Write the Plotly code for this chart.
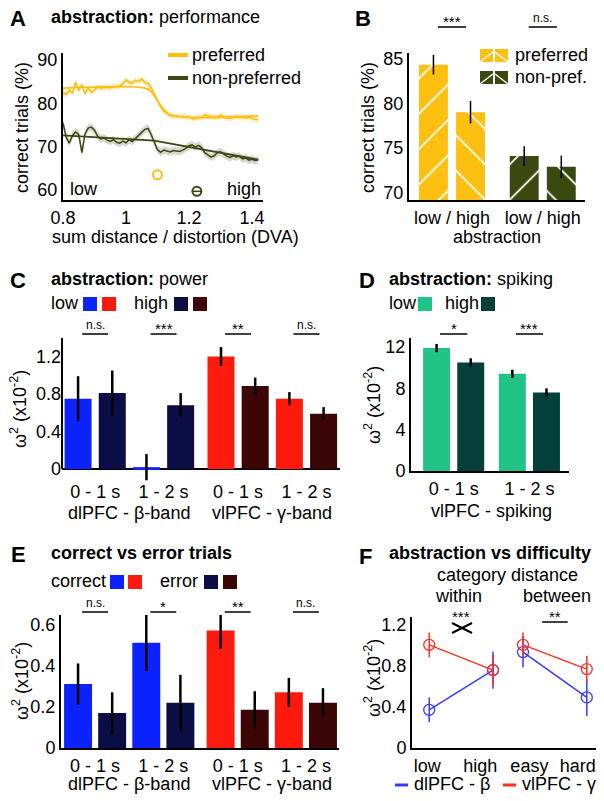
import plotly.graph_objects as go

# the page body adds an 8px margin; the figure is sized to the remaining window
W, H = 604, 801
OFF = 8
FIG_W, FIG_H = W - OFF, H - OFF
FONT = "Liberation Sans, Arial, Helvetica, sans-serif"

YELLOW = "#fdbf10"
OLIVE = "#3b4810"
BLUE = "#0c22ff"
NAVY = "#0b0e45"
RED = "#ff1a0e"
MAROON = "#3c0606"
GREEN = "#22c387"
TEAL = "#053f3a"
F_BLUE = "#3a3aff"
F_RED = "#ff3020"

# ---- A: performance vs sum distance / distortion
A_X = [0.80, 0.81, 0.82, 0.83, 0.84, 0.85, 0.86, 0.87, 0.88, 0.89,
       0.90, 0.91, 0.92, 0.93, 0.94, 0.95, 0.96, 0.97, 0.98, 0.99,
       1.00, 1.01, 1.02, 1.03, 1.04, 1.05, 1.06, 1.07, 1.08, 1.09,
       1.10, 1.11, 1.12, 1.13, 1.14, 1.15, 1.16, 1.17, 1.18, 1.19,
       1.20, 1.21, 1.22, 1.23, 1.24, 1.25, 1.26, 1.27, 1.28, 1.29,
       1.30, 1.31, 1.32, 1.33, 1.34, 1.35, 1.36, 1.37, 1.38, 1.39,
       1.40, 1.41, 1.42]
A_PREF = [82.6, 82.0, 83.1, 82.4, 84.8, 82.9, 84.3, 82.2, 83.6, 82.5,
          83.0, 83.8, 83.5, 83.6, 83.7, 83.6, 83.8, 83.9, 84.0, 84.4,
          85.4, 84.8, 84.6, 85.3, 85.0, 85.6, 84.8, 84.6, 83.6, 82.0,
          80.5, 79.2, 78.2, 77.6, 77.2, 77.0, 77.1, 76.9, 77.0, 76.8,
          76.9, 76.5, 76.4, 76.9, 76.7, 77.3, 77.2, 76.8, 76.9, 76.8,
          77.3, 77.0, 76.6, 76.5, 76.8, 77.0, 76.9, 76.7, 76.6, 76.8,
          76.5, 76.3, 76.2]
A_NONPREF = [75.5, 72.2, 70.8, 72.6, 73.4, 72.8, 68.6, 73.0, 74.3, 74.5,
             73.8, 72.4, 71.8, 72.0, 71.5, 71.2, 71.6, 71.0, 70.8, 71.3,
             70.9, 71.6, 71.2, 72.0, 72.6, 73.3, 74.0, 74.2, 72.8, 71.0,
             69.3, 68.7, 69.2, 69.0, 68.8, 69.1, 69.0, 68.9, 69.2, 69.6,
             70.2, 70.4, 69.9, 70.3, 69.8, 68.6, 68.1, 67.6, 67.9, 68.6,
             68.8, 68.2, 67.8, 67.5, 67.9, 67.6, 67.8, 67.2, 67.4, 66.9,
             67.1, 66.8, 66.9]
A_PREF_SEM = 0.7
A_NONPREF_SEM = 0.9
A_PREF_FIT_X = [0.80, 1.06, 1.08, 1.10, 1.12, 1.14, 1.42]
A_PREF_FIT = [83.5, 83.5, 82.7, 80.6, 78.6, 77.3, 77.1]
A_NONPREF_FIT_X = [0.80, 1.09, 1.42]
A_NONPREF_FIT = [72.6, 71.4, 67.0]
A_CHANGE_X = [1.10, 1.225]
A_TICKS = [0.8, 1, 1.2, 1.4]

# ---- B: performance low / high abstraction
B_GROUPS = ["preferred", "non-pref."]
B_LOW = [84.3, 74.1]
B_LOW_ERR = [1.1, 1.1]
B_HIGH = [79.0, 72.9]
B_HIGH_ERR = [1.25, 1.25]
B_SIG = ["***", "n.s."]

# ---- C: abstraction power
C_REGIONS = ["dlPFC - β-band", "vlPFC - γ-band"]
C_TIMES = ["0 - 1 s", "1 - 2 s", "0 - 1 s", "1 - 2 s"]
C_LOW = [0.75, 0.02, 1.20, 0.75]
C_LOW_ERR = [0.24, 0.14, 0.10, 0.07]
C_HIGH = [0.81, 0.68, 0.885, 0.59]
C_HIGH_ERR = [0.24, 0.13, 0.09, 0.07]
C_SIG = ["n.s.", "***", "**", "n.s."]

# ---- D: abstraction spiking
D_TIMES = ["0 - 1 s", "1 - 2 s"]
D_LOW = [11.9, 9.4]
D_LOW_ERR = [0.4, 0.4]
D_HIGH = [10.5, 7.6]
D_HIGH_ERR = [0.4, 0.4]
D_SIG = ["*", "***"]

# ---- E: correct vs error trials
E_CORRECT = [0.31, 0.51, 0.57, 0.27]
E_CORRECT_ERR = [0.10, 0.135, 0.09, 0.07]
E_ERROR = [0.17, 0.22, 0.185, 0.22]
E_ERROR_ERR = [0.10, 0.135, 0.09, 0.07]
E_SIG = ["n.s.", "*", "**", "n.s."]

# ---- F: abstraction vs difficulty
F_LABELS = ["low", "high", "easy", "hard"]
F_DL = [0.37, 0.755, 0.93, 0.49]
F_DL_ERR = [0.12, 0.18, 0.15, 0.18]
F_VL = [1.0, 0.755, 1.0, 0.765]
F_VL_ERR = [0.12, 0.15, 0.12, 0.13]


def px(x):
    return (x - OFF) / FIG_W


def py(y):
    return 1 - (y - OFF) / FIG_H


def slots(n_pairs, pair_gap=0.0, per_region=None, region_gap=0.0):
    lows, highs, centers = [], [], []
    for p in range(n_pairs):
        base = p * (2 + pair_gap)
        if per_region:
            base += (p // per_region) * region_gap
        lows.append(base)
        highs.append(base + 1)
        centers.append(base + 0.5)
    return lows, highs, centers


def err(arr, thick=2.5):
    return dict(type="data", array=arr, color="black", thickness=thick, width=0)


def axis(**kw):
    d = dict(showline=True, linecolor="black", linewidth=2, ticks="",
             showgrid=False, zeroline=False, fixedrange=True, automargin=False,
             tickfont=dict(size=18, family=FONT, color="black"))
    d.update(kw)
    return d


fig = go.Figure()
annots = []
shapes = []


def note(text, x, y, size=18, xanchor="center", bold=False, **kw):
    if bold:
        text = "<b>" + text + "</b>"
    annots.append(dict(text=text, x=px(x), y=py(y), xref="paper", yref="paper",
                       xanchor=xanchor, yanchor="middle", showarrow=False,
                       font=dict(size=size, family=FONT, color="black"), **kw))


def sig(text, xref, xc, half, y_line):
    shapes.append(dict(type="line", xref=xref, yref="paper", x0=xc - half, x1=xc + half,
                       y0=py(y_line), y1=py(y_line), line=dict(color="black", width=1.5)))
    star = "*" in text
    annots.append(dict(text=text, x=xc, y=py(y_line), xref=xref, yref="paper",
                       xanchor="center", yanchor="bottom", showarrow=False,
                       yshift=-5 if star else 0,
                       font=dict(size=15 if star else 12, family=FONT, color="black")))


def square(x0, y0, color, size=14):
    shapes.append(dict(type="rect", xref="paper", yref="paper", x0=px(x0), x1=px(x0 + size),
                       y0=py(y0 + size), y1=py(y0), fillcolor=color, line=dict(width=0)))


# ---------------- A
for ys, sem, col, band in [(A_PREF, A_PREF_SEM, YELLOW, "rgba(253,191,16,0.28)"),
                           (A_NONPREF, A_NONPREF_SEM, OLIVE, "rgba(110,118,80,0.28)")]:
    fig.add_trace(go.Scatter(x=A_X + A_X[::-1],
                             y=[v + sem for v in ys] + [v - sem for v in ys[::-1]],
                             fill="toself", fillcolor=band, line=dict(width=0),
                             mode="lines", xaxis="x", yaxis="y", hoverinfo="skip"))
    fig.add_trace(go.Scatter(x=A_X, y=ys, mode="lines", line=dict(color=col, width=1.5),
                             xaxis="x", yaxis="y"))
fig.add_trace(go.Scatter(x=A_PREF_FIT_X, y=A_PREF_FIT, mode="lines",
                         line=dict(color=YELLOW, width=1.8, shape="spline"), xaxis="x", yaxis="y"))
fig.add_trace(go.Scatter(x=A_NONPREF_FIT_X, y=A_NONPREF_FIT, mode="lines",
                         line=dict(color=OLIVE, width=1.8), xaxis="x", yaxis="y"))
fig.add_trace(go.Scatter(x=A_CHANGE_X[:1], y=[63.5], mode="markers", xaxis="x", yaxis="y",
                         marker=dict(symbol="circle-open", size=9, color=YELLOW, line=dict(width=2))))
fig.add_trace(go.Scatter(x=A_CHANGE_X[1:], y=[59.7], mode="markers", xaxis="x", yaxis="y",
                         marker=dict(symbol="circle-open", size=9, color=OLIVE, line=dict(width=2))))
fig.add_trace(go.Scatter(x=A_CHANGE_X[1:], y=[59.7], mode="markers", xaxis="x", yaxis="y",
                         marker=dict(symbol="line-ew-open", size=7, color=OLIVE, line=dict(width=1.5))))

note("A", 18, 18, size=22, bold=True)
note("<b>abstraction:</b> performance", 49, 17, xanchor="left")
note("correct trials (%)", 22, 128, textangle=-90)
note("sum distance / distortion (DVA)", 175, 237)
note("low", 68, 189, xanchor="left")
note("high", 263, 189, xanchor="right")
for y, col, lab in [(55, YELLOW, "preferred"), (78, OLIVE, "non-preferred")]:
    shapes.append(dict(type="line", xref="paper", yref="paper", x0=px(168), x1=px(188),
                       y0=py(y), y1=py(y), line=dict(color=col, width=4)))
    note(lab, 190, y, xanchor="left")

# ---------------- B  (one trace per bar so the white hatch keeps its colour)
b_lo, b_hi, b_ctr = slots(2, pair_gap=0.45)
b_cols = [YELLOW, OLIVE]
for xs, ys, es, shp in [(b_lo, B_LOW, B_LOW_ERR, "/"), (b_hi, B_HIGH, B_HIGH_ERR, "\\")]:
    for g in range(len(B_GROUPS)):
        fig.add_trace(go.Bar(x=[xs[g]], y=[ys[g]], width=0.78, xaxis="x2", yaxis="y2",
                             name=B_GROUPS[g],
                             marker=dict(color=b_cols[g], line=dict(width=0),
                                         pattern=dict(shape=shp, fillmode="overlay",
                                                      fgcolor="white", size=25,
                                                      solidity=0.07, fgopacity=1)),
                             error_y=err([es[g]], 1.5)))
for t, c in zip(B_SIG, b_ctr):
    sig(t, "x2", c, 0.38, 27)
note("B", 363, 18, size=22, bold=True)
note("correct trials (%)", 368, 128, textangle=-90)
note("abstraction", 497, 237)
for y, col, lab in [(49, YELLOW, "preferred"), (71, OLIVE, "non-pref.")]:
    for i, x0 in enumerate([480, 495]):
        square(x0, y, col, 13)
        if i == 0:
            x1, y1, x2, y2 = x0, y + 13, x0 + 13, y + 3
        else:
            x1, y1, x2, y2 = x0, y + 3, x0 + 13, y + 13
        shapes.append(dict(type="line", xref="paper", yref="paper", x0=px(x1), x1=px(x2),
                           y0=py(y1), y1=py(y2), line=dict(color="white", width=1.5)))
    note(lab, 513, y + 6, xanchor="left")

# ---------------- C
c_lo, c_hi, c_ctr = slots(4, per_region=2, region_gap=0.18)
c_cols_lo = [BLUE, BLUE, RED, RED]
c_cols_hi = [NAVY, NAVY, MAROON, MAROON]
fig.add_trace(go.Bar(x=c_lo, y=C_LOW, width=0.79, xaxis="x3", yaxis="y3",
                     marker=dict(color=c_cols_lo, line=dict(width=0)), error_y=err(C_LOW_ERR)))
fig.add_trace(go.Bar(x=c_hi, y=C_HIGH, width=0.79, xaxis="x3", yaxis="y3",
                     marker=dict(color=c_cols_hi, line=dict(width=0)), error_y=err(C_HIGH_ERR)))
for t, c in zip(C_SIG, c_ctr):
    sig(t, "x3", c, 0.38, 334)
c_reg = [(c_ctr[0] + c_ctr[1]) / 2, (c_ctr[2] + c_ctr[3]) / 2]
for r, c in zip(C_REGIONS, c_reg):
    annots.append(dict(text=r, x=c, y=py(513), xref="x3", yref="paper", showarrow=False,
                       xanchor="center", yanchor="middle", font=dict(size=18, family=FONT, color="black")))
shapes.append(dict(type="line", xref="x3 domain", yref="y3", x0=0, x1=0, y0=0, y1=1.397,
                   line=dict(color="black", width=2)))
note("C", 18, 281, size=22, bold=True)
note("<b>abstraction:</b> power", 49, 279, xanchor="left")
note("low", 49, 303, xanchor="left")
square(83, 297, BLUE)
square(102, 297, RED)
note("high", 132, 303, xanchor="left")
square(174, 297, NAVY)
square(193, 297, MAROON)
note("ω<sup>2</sup> (x10<sup>-2</sup>)", 18, 409, textangle=-90)

# ---------------- D
d_lo, d_hi, d_ctr = slots(2, pair_gap=0.22)
fig.add_trace(go.Bar(x=d_lo, y=D_LOW, width=0.79, xaxis="x4", yaxis="y4",
                     marker=dict(color=GREEN, line=dict(width=0)), error_y=err(D_LOW_ERR)))
fig.add_trace(go.Bar(x=d_hi, y=D_HIGH, width=0.79, xaxis="x4", yaxis="y4",
                     marker=dict(color=TEAL, line=dict(width=0)), error_y=err(D_HIGH_ERR)))
for t, c in zip(D_SIG, d_ctr):
    sig(t, "x4", c, 0.4, 334)
annots.append(dict(text="vlPFC - spiking", x=sum(d_ctr) / 2, y=py(511), xref="x4", yref="paper",
                   showarrow=False, xanchor="center", yanchor="middle",
                   font=dict(size=18, family=FONT, color="black")))
note("D", 367, 281, size=22, bold=True)
note("<b>abstraction:</b> spiking", 387, 279, xanchor="left")
note("low", 387, 303, xanchor="left")
square(418, 297, GREEN)
note("high", 443, 303, xanchor="left")
square(481, 297, TEAL)
note("ω<sup>2</sup> (x10<sup>-2</sup>)", 372, 405, textangle=-90)

# ---------------- E
e_lo, e_hi, e_ctr = slots(4, per_region=2, region_gap=0.18)
fig.add_trace(go.Bar(x=e_lo, y=E_CORRECT, width=0.82, xaxis="x5", yaxis="y5",
                     marker=dict(color=c_cols_lo, line=dict(width=0)), error_y=err(E_CORRECT_ERR)))
fig.add_trace(go.Bar(x=e_hi, y=E_ERROR, width=0.82, xaxis="x5", yaxis="y5",
                     marker=dict(color=c_cols_hi, line=dict(width=0)), error_y=err(E_ERROR_ERR)))
for t, c in zip(E_SIG, e_ctr):
    sig(t, "x5", c, 0.38, 612)
e_reg = [(e_ctr[0] + e_ctr[1]) / 2, (e_ctr[2] + e_ctr[3]) / 2]
for r, c in zip(C_REGIONS, e_reg):
    annots.append(dict(text=r, x=c, y=py(784), xref="x5", yref="paper", showarrow=False,
                       xanchor="center", yanchor="middle", font=dict(size=18, family=FONT, color="black")))
note("E", 18, 554, size=22, bold=True)
note("correct vs error trials", 49, 553, xanchor="left", bold=True)
note("correct", 49, 581, xanchor="left")
square(110, 575, BLUE)
square(128, 575, RED)
note("error", 158, 581, xanchor="left")
square(204, 575, NAVY)
square(223, 575, MAROON)
note("ω<sup>2</sup> (x10<sup>-2</sup>)", 20, 681, textangle=-90)

# ---------------- F
f_pos = [p * 1.47 + i for p in range(2) for i in range(2)]
f_tick = [f + s for f, s in zip(f_pos, [-0.03, -0.2, 0.1, -0.14])]
for ys, es, col in [(F_DL, F_DL_ERR, F_BLUE), (F_VL, F_VL_ERR, F_RED)]:
    for k in range(2):
        fig.add_trace(go.Scatter(x=f_pos[2 * k:2 * k + 2], y=ys[2 * k:2 * k + 2],
                                 mode="lines+markers", xaxis="x6", yaxis="y6",
                                 line=dict(color=col, width=1.5),
                                 marker=dict(symbol="circle-open", size=11, color=col,
                                             line=dict(width=1.3)),
                                 error_y=dict(type="data", array=es[2 * k:2 * k + 2], color=col,
                                              thickness=1.5, width=0)))
sig("**", "x6", (f_pos[2] + f_pos[3]) / 2, 0.2, 622)
note("***", 461, 616, size=15)
shapes.append(dict(type="line", xref="paper", yref="paper", x0=px(452), x1=px(472),
                   y0=py(623), y1=py(633), line=dict(color="black", width=2)))
shapes.append(dict(type="line", xref="paper", yref="paper", x0=px(452), x1=px(472),
                   y0=py(633), y1=py(623), line=dict(color="black", width=2)))
note("F", 365, 556, size=22, bold=True)
note("abstraction vs difficulty", 387, 553, xanchor="left", bold=True)
note("category distance", 507, 575)
note("within", 458, 596)
note("between", 557, 596)
note("ω<sup>2</sup> (x10<sup>-2</sup>)", 372, 678, textangle=-90)
for x0, col, lab in [(395, F_BLUE, "dlPFC - β"), (503, F_RED, "vlPFC - γ")]:
    shapes.append(dict(type="line", xref="paper", yref="paper", x0=px(x0), x1=px(x0 + 13),
                       y0=py(785), y1=py(785), line=dict(color=col, width=3)))
    note(lab, x0 + 17, 784, xanchor="left")

fig.update_layout(
    width=FIG_W, height=FIG_H, margin=dict(l=0, r=0, t=0, b=0),
    paper_bgcolor="white", plot_bgcolor="white", showlegend=False,
    barmode="overlay", font=dict(family=FONT, size=18, color="black"),
    xaxis=axis(domain=[px(63), px(263)], range=[0.8, 1.435], anchor="y",
               tickvals=A_TICKS, ticktext=["0.8", "1", "1.2", "1.4"]),
    yaxis=axis(domain=[py(200), py(53)], range=[57.7, 91.6], anchor="x",
               tickvals=[60, 70, 80, 90]),
    xaxis2=axis(domain=[px(409), px(585)], range=[-0.66, 4.09], anchor="y2",
                tickvals=b_ctr, ticktext=["low / high", "low / high"]),
    yaxis2=axis(domain=[py(200), py(53)], range=[69.2, 85.6], anchor="x2",
                tickvals=[70, 75, 80, 85]),
    xaxis3=axis(domain=[px(62), px(340)], range=[-0.47, 7.66], anchor="y3",
                showline=False, tickvals=c_ctr, ticktext=C_TIMES, ticklabelstandoff=-4),
    yaxis3=axis(domain=[py(483), py(338)], range=[-0.149, 1.397], anchor="x3",
                showline=False, zeroline=True, zerolinecolor="black", zerolinewidth=2,
                tickvals=[0, 0.4, 0.8, 1.2]),
    xaxis4=axis(domain=[px(411), px(569)], range=[-0.75, 3.88], anchor="y4",
                tickvals=d_ctr, ticktext=D_TIMES),
    yaxis4=axis(domain=[py(471), py(338)], range=[0, 12.87], anchor="x4",
                tickvals=[0, 4, 8, 12]),
    xaxis5=axis(domain=[px(61), px(339)], range=[-0.5, 7.65], anchor="y5",
                tickvals=e_ctr, ticktext=C_TIMES),
    yaxis5=axis(domain=[py(748), py(615)], range=[0, 0.645], anchor="x5",
                tickvals=[0, 0.2, 0.4, 0.6]),
    xaxis6=axis(domain=[px(412), px(597)], range=[-0.27, 2.63], anchor="y6",
                tickvals=f_tick, ticktext=F_LABELS),
    yaxis6=axis(domain=[py(748), py(617)], range=[0, 1.27], anchor="x6",
                tickvals=[0, 0.4, 0.8, 1.2]),
    annotations=annots,
    shapes=shapes,
)

fig.write_html("out.html")
